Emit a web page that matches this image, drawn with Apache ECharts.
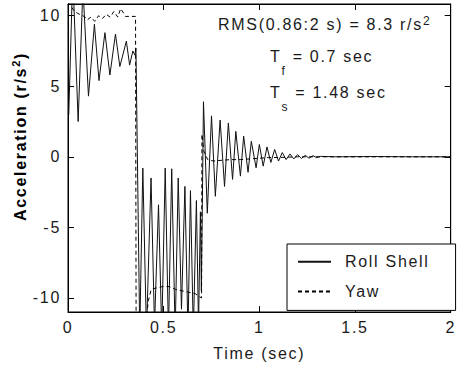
<!DOCTYPE html>
<html><head><meta charset="utf-8">
<script src="https://cdn.jsdelivr.net/npm/echarts@6/dist/echarts.min.js"></script>
<style>
html,body{margin:0;padding:0;background:#fff;}
#chart{width:459px;height:368px;}
#chart text{letter-spacing:1.7px;}
</style></head><body><div id="chart"></div>
<script>
// ---- data ----
const xTicks = [0, 0.5, 1, 1.5, 2];
const yTicks = [-10, -5, 0, 5, 10];
const seriesNames = ['Roll Shell', 'Yaw'];

const rollT = [0, 0.004, 0.025, 0.053, 0.078, 0.107, 0.138, 0.162, 0.193, 0.219, 0.248, 0.271, 0.305, 0.322, 0.339, 0.35, 0.355,
  0.375, 0.391, 0.41, 0.434, 0.452, 0.473, 0.49, 0.508, 0.525, 0.542, 0.56, 0.576, 0.593, 0.611, 0.627, 0.64, 0.655, 0.671, 0.682, 0.692, 0.697,
  0.708, 0.728, 0.75, 0.77, 0.795, 0.818, 0.838, 0.86, 0.877, 0.901, 0.918, 0.941, 0.958, 0.983, 1.0, 1.02, 1.04, 1.06, 1.08, 1.1, 1.12, 1.14,
  1.16, 1.18, 1.2, 1.22, 1.24, 1.26, 1.28, 1.3, 1.32, 1.4, 1.6, 1.8, 2.0];
const rollV = [3.1, 3.0, 13, 2.5, 12, 4.3, 9.4, 5.4, 8.8, 5.8, 8.7, 6.4, 8.2, 6.5, 7.5, 7.2, 7.7,
  -12.5, -0.8, -12.5, -1.5, -12, -3.4, -12.5, -0.8, -12.5, -0.85, -12.5, -1.5, -10.8, -2.1, -12.5, -2.4, -12.5, -3.1, -12, -3.9, -9.5,
  3.9, -4.0, 2.9, -2.8, 2.6, -2.1, 2.4, -1.6, 1.8, -1.37, 1.46, -1.1, 1.1, -0.78, 0.87, -0.66, 0.7, -0.4, 0.52, -0.3, 0.3, -0.2,
  0.2, -0.15, 0.15, -0.12, 0.1, -0.1, 0.08, -0.06, 0.03, 0, 0.02, 0, 0];

const yawT = [0, 0.034, 0.06, 0.085, 0.1, 0.12, 0.14, 0.16, 0.18, 0.2, 0.22, 0.24, 0.26, 0.275, 0.29, 0.3, 0.353, 0.356,
  0.405, 0.42, 0.435, 0.46, 0.494, 0.53, 0.563, 0.597, 0.631, 0.665, 0.685, 0.698, 0.7, 0.71, 0.73, 0.76, 0.8, 0.85, 0.9, 0.95,
  1.0, 1.05, 1.1, 1.2, 1.3, 1.5, 2.0];
const yawV = [11, 10.3, 10.1, 9.95, 9.7, 9.9, 9.6, 10.0, 9.8, 10.1, 9.9, 10.3, 9.9, 10.5, 10.2, 9.95, 9.95, -12.5,
  -12, -10.2, -9.4, -9.3, -9.2, -9.2, -9.4, -9.5, -9.6, -9.7, -9.9, -10, 1.6, 0.4, -0.2, -0.3, -0.25, -0.2, -0.2, -0.15,
  -0.1, -0.05, -0.05, 0, 0, 0, 0];

const xName = 'Time (sec)';
const yNameMain = 'Acceleration (r/s';
const rmsMain = 'RMS(0.86:2 s) = 8.3 r/s';
const tfRest = ' = 0.7 sec';
const tsRest = ' = 1.48 sec';

// ---- rendering ----
const SPACING = 1.7;
const FONT = 'Liberation Sans';
const TXT = '#1a1a1a';
const mctx = document.createElement('canvas').getContext('2d');
if (echarts.setPlatformAPI) {
  echarts.setPlatformAPI({
    measureText: function (text, font) {
      mctx.font = font || '12px sans-serif';
      const s = String(text);
      return { width: mctx.measureText(s).width + s.length * SPACING };
    }
  });
}

const chart = echarts.init(document.getElementById('chart'), null, { renderer: 'svg', width: 459, height: 368 });
const dataRoll = rollT.map((t, i) => [t, rollV[i]]);
const dataYaw = yawT.map((t, i) => [t, yawV[i]]);

const axLine = { show: true, onZero: false, lineStyle: { color: '#000', width: 1 } };
const tickStyle = { color: '#000', width: 1 };
const labelBase = { fontSize: 16, fontFamily: FONT, color: TXT };

const option = {
  animation: false,
  backgroundColor: '#fff',
  grid: { left: 68, right: 2.5, top: 4, bottom: 56, show: true, borderColor: '#000', borderWidth: 1, backgroundColor: 'transparent' },
  xAxis: [
    { type: 'value', min: xTicks[0], max: xTicks[xTicks.length - 1], interval: 0.5, position: 'bottom',
      axisLine: axLine, splitLine: { show: false },
      axisTick: { show: true, inside: true, length: 6, lineStyle: tickStyle },
      axisLabel: Object.assign({ show: true, margin: 7, showMinLabel: true, showMaxLabel: true, formatter: v => String(v) }, labelBase),
      name: xName, nameLocation: 'middle', nameGap: 33, nameTextStyle: labelBase },
    { type: 'value', min: xTicks[0], max: xTicks[xTicks.length - 1], interval: 0.5, position: 'top',
      axisLine: axLine, splitLine: { show: false },
      axisTick: { show: true, inside: true, length: 6, lineStyle: tickStyle },
      axisLabel: { show: false } }
  ],
  yAxis: [
    { type: 'value', min: -11, max: 10.83, position: 'left',
      axisLine: axLine, splitLine: { show: false },
      axisTick: { show: true, inside: true, length: 6, lineStyle: tickStyle, customValues: yTicks },
      axisLabel: Object.assign({ show: true, margin: 7, customValues: yTicks }, labelBase) },
    { type: 'value', min: -11, max: 10.83, position: 'right',
      axisLine: axLine, splitLine: { show: false },
      axisTick: { show: true, inside: true, length: 6, lineStyle: tickStyle, customValues: yTicks },
      axisLabel: { show: false } }
  ],
  legend: {
    data: seriesNames, orient: 'vertical', left: 287, top: 244, padding: [9, 26, 10, 10],
    itemWidth: 33, itemHeight: 14, itemGap: 12, selectedMode: false,
    backgroundColor: '#fff', borderColor: '#000', borderWidth: 1, borderRadius: 0,
    itemStyle: { opacity: 0 },
    textStyle: Object.assign({ padding: [0, 0, 0, 9] }, labelBase)
  },
  graphic: [
    { type: 'text', x: 218, y: 24, z: 10,
      style: { text: '{m|' + rmsMain + '}{sup|2}', align: 'left', verticalAlign: 'middle',
        rich: { m: { fontSize: 16, fontFamily: FONT, fill: TXT, lineHeight: 20 },
                sup: { fontSize: 12, fontFamily: FONT, fill: TXT, verticalAlign: 'top' } } } },
    { type: 'text', x: 270, y: 56.5, z: 10,
      style: { text: '{m|T}{sub|f}{m|' + tfRest + '}', align: 'left', verticalAlign: 'middle',
        rich: { m: { fontSize: 16, fontFamily: FONT, fill: TXT, lineHeight: 42 },
                sub: { fontSize: 12, fontFamily: FONT, fill: TXT, verticalAlign: 'bottom' } } } },
    { type: 'text', x: 270, y: 92.5, z: 10,
      style: { text: '{m|T}{sub|s}{m|' + tsRest + '}', align: 'left', verticalAlign: 'middle',
        rich: { m: { fontSize: 16, fontFamily: FONT, fill: TXT, lineHeight: 42 },
                sub: { fontSize: 12, fontFamily: FONT, fill: TXT, verticalAlign: 'bottom' } } } },
    { type: 'text', x: 20, y: 136.5, rotation: Math.PI / 2, z: 10,
      style: { text: '{b|' + yNameMain + '}{sup|2}{b|)}', align: 'center', verticalAlign: 'middle',
        rich: { b: { fontSize: 16, fontWeight: 'bold', fontFamily: FONT, fill: '#000', lineHeight: 20 },
                sup: { fontSize: 11, fontWeight: 'bold', fontFamily: FONT, fill: '#000', verticalAlign: 'top' } } } }
  ],
  series: [
    { name: seriesNames[0], type: 'line', data: dataRoll, symbol: 'none', clip: true, z: 2,
      lineStyle: { color: '#111', width: 1, type: 'solid' }, itemStyle: { color: '#111' } },
    { name: seriesNames[1], type: 'line', data: dataYaw, symbol: 'none', clip: true, z: 3,
      lineStyle: { color: '#000', width: 1, type: [4, 3] }, itemStyle: { color: '#000' } }
  ]
};
chart.setOption(option);
</script></body></html>
